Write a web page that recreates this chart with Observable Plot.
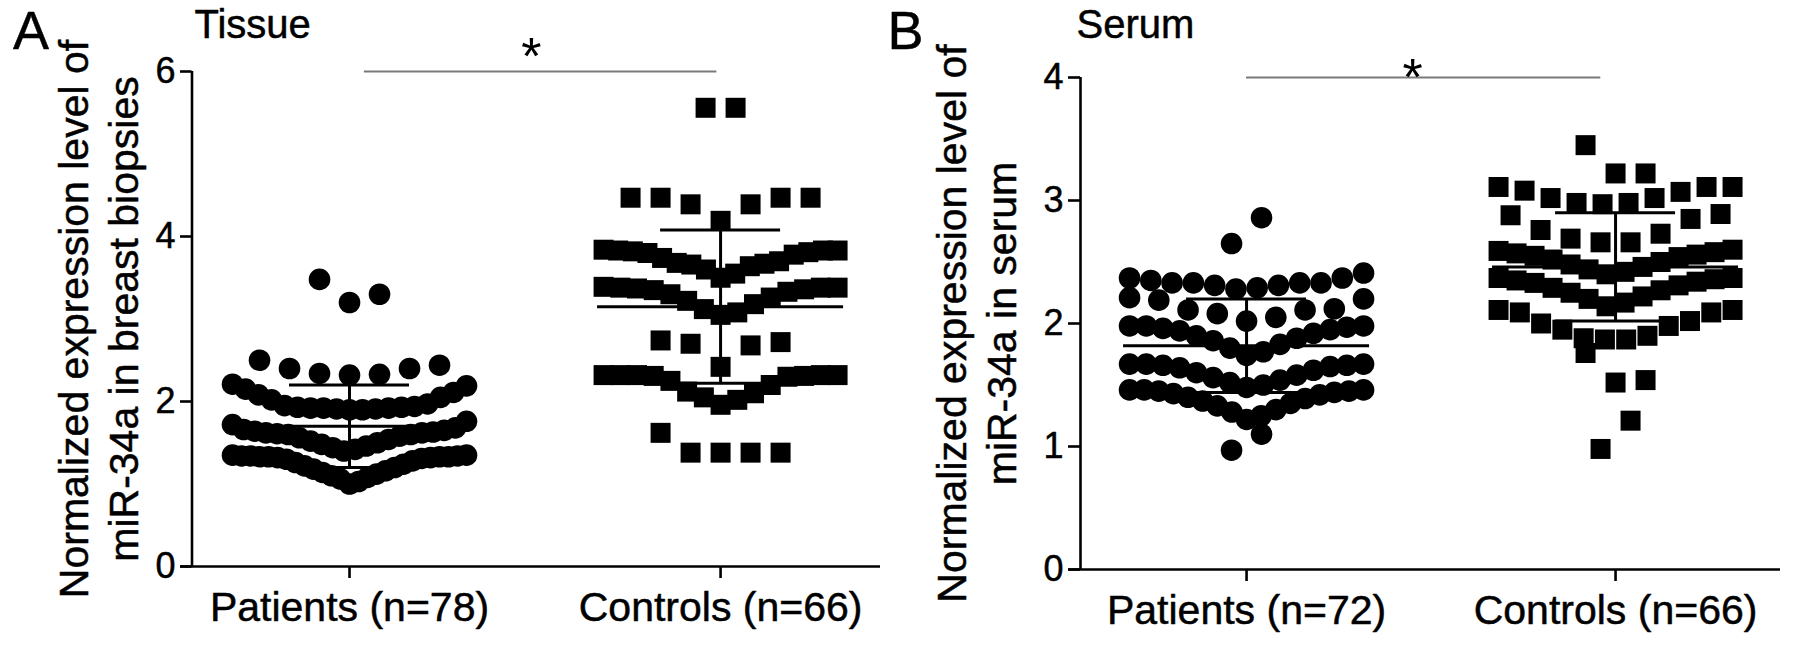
<!DOCTYPE html>
<html><head><meta charset="utf-8">
<script src="https://cdn.jsdelivr.net/npm/d3@7"></script>
<script src="https://cdn.jsdelivr.net/npm/@observablehq/plot@0.6"></script>
<style>
body{margin:0;background:#fff;}
#wrap{position:relative;width:1795px;height:647px;overflow:hidden;background:#fff;}
#wrap svg{position:absolute;top:0;}
</style></head><body><div id="wrap"></div>
<script>
// ---------- data ----------
const tissueLabels = ["Patients (n=78)", "Controls (n=66)"];
const serumLabels = ["Patients (n=72)", "Controls (n=66)"];

const patientsTissue = [
  1.00, 1.03, 1.06, 1.08, 1.10, 1.12, 1.14, 1.16, 1.18, 1.20, 1.22, 1.24, 1.26, 1.28, 1.30,
  1.31, 1.32, 1.32, 1.33, 1.33, 1.33, 1.33, 1.34, 1.34, 1.34, 1.35, 1.35,
  1.40, 1.42, 1.44, 1.46, 1.48, 1.50, 1.52, 1.54, 1.56, 1.58, 1.60, 1.60, 1.61, 1.62, 1.62,
  1.63, 1.64, 1.65, 1.66, 1.68, 1.72, 1.76,
  1.90, 1.90, 1.91, 1.91, 1.92, 1.92, 1.92, 1.93, 1.93, 1.94, 1.95, 1.97, 2.02, 2.05, 2.08,
  2.11, 2.15, 2.19, 2.21,
  2.32, 2.33, 2.34, 2.40, 2.40, 2.44, 2.50,
  3.20, 3.30, 3.48
];
const controlsTissue = [
  1.38, 1.38, 1.38, 1.38, 1.62,
  1.96, 2.02, 2.05, 2.10, 2.12, 2.20, 2.25, 2.30, 2.31, 2.31, 2.32, 2.32, 2.32, 2.32, 2.32,
  2.42, 2.68, 2.70, 2.72, 2.74,
  3.05, 3.08, 3.12, 3.18, 3.22, 3.26, 3.30, 3.33, 3.35, 3.36, 3.37, 3.38, 3.38, 3.38, 3.39,
  3.50, 3.55, 3.60, 3.64, 3.66, 3.67, 3.68, 3.70, 3.74, 3.78, 3.80, 3.81, 3.82, 3.83, 3.83, 3.83, 3.84,
  4.19, 4.39, 4.39, 4.47, 4.47, 4.47, 4.47,
  5.56, 5.56
];
const patientsSerum = [
  0.97, 1.10,
  1.22, 1.25, 1.28, 1.30, 1.33, 1.35, 1.37, 1.39, 1.40, 1.42, 1.43, 1.44, 1.45, 1.45, 1.46, 1.46, 1.46,
  1.48, 1.50, 1.52, 1.54, 1.56, 1.58, 1.60, 1.62, 1.64, 1.65, 1.66, 1.66, 1.67, 1.67, 1.67,
  1.74, 1.77, 1.80, 1.83, 1.86, 1.88, 1.90, 1.92, 1.94, 1.95, 1.96, 1.97, 1.98, 1.98, 1.98,
  2.02, 2.05, 2.08, 2.11, 2.11, 2.12, 2.19, 2.20, 2.21,
  2.28, 2.29, 2.31, 2.31, 2.33, 2.33, 2.33, 2.33, 2.35, 2.37, 2.37, 2.41,
  2.65, 2.86
];
const controlsSerum = [
  0.98, 1.21,
  1.52, 1.54, 1.76,
  1.87, 1.87, 1.88, 1.90, 1.95, 1.98, 2.00, 2.02, 2.09, 2.09, 2.11, 2.11,
  2.14, 2.17, 2.20, 2.22, 2.25, 2.27, 2.29, 2.31, 2.33, 2.34, 2.35, 2.36, 2.37, 2.37,
  2.40, 2.42, 2.44, 2.46, 2.48, 2.50, 2.52, 2.54, 2.55, 2.56, 2.57, 2.58, 2.59, 2.60,
  2.66, 2.66, 2.69, 2.73, 2.76, 2.85, 2.88, 2.89,
  2.97, 2.98, 2.98, 3.02, 3.02, 3.07, 3.08, 3.11, 3.11, 3.11,
  3.22, 3.22, 3.45
];
const tissueMean = [1.70, 3.15];
const tissueSD = [0.50, 0.93];
const serumMean = [1.82, 2.46];
const serumSD = [0.38, 0.44];
const tissueTicks = [0, 2, 4, 6];
const serumTicks = [0, 1, 2, 3, 4];
// significance bracket: [from group position, to group position], level, star position
const sigFrom = [0.04, 0.0];
const sigTo = [0.99, 0.96];
const sigLevel = [6, 4];
const sigStarAt = [0.49, 0.45];

// ---------- layout helpers ----------
const HEIGHT = 647;
const FONT = "'Liberation Sans', Arial, Helvetica, sans-serif";
const BIN_PX = 30.3, MAX_STEP = 30, MAX_HALF = 117;
const MEAN_HALF = 123, CAP_HALF = 60;
const TXT = {fill: "black", stroke: "black", strokeWidth: 0.5};

// Prism-like column scatter: bin sorted values into rows, spread each row symmetrically
function scatterLayout(values, gi, binUnits, kx) {
  const sorted = values.slice().sort((a, b) => a - b);
  const rows = [];
  let cur = null;
  for (const v of sorted) {
    if (!cur || v - cur.start >= binUnits - 1e-9) { cur = {start: v, vals: []}; rows.push(cur); }
    cur.vals.push(v);
  }
  const out = [];
  for (const row of rows) {
    const n = row.vals.length;
    const s = n > 1 ? Math.min(MAX_STEP, 2 * MAX_HALF / (n - 1)) : 0;
    row.vals.forEach((v, i) => {
      let slot;
      if (n % 2) slot = i === 0 ? 0 : (i % 2 ? 1 : -1) * Math.ceil(i / 2);
      else slot = (i % 2 === 0 ? -1 : 1) * (Math.floor(i / 2) + 0.5);
      out.push({x: gi + slot * s / kx, v, g: gi});
    });
  }
  return out;
}

function panel(c) {
  const fw = c.width - c.mL - c.mR;
  const kx = fw / (c.xDomain[1] - c.xDomain[0]);
  const ky = (HEIGHT - c.mT - c.mB) / c.yMax;
  const pts = [];
  c.groups.forEach((vals, gi) => pts.push(...scatterLayout(vals, gi, BIN_PX / ky, kx)));
  const stats = c.means.map((m, i) => ({i, m, lo: m - c.sds[i], hi: m + c.sds[i]}));
  const sig = [{x1: sigFrom[c.p], x2: sigTo[c.p], y: sigLevel[c.p], sx: sigStarAt[c.p]}];
  const lw = 2.6;
  return Plot.plot({
    width: c.width, height: HEIGHT,
    marginLeft: c.mL, marginRight: c.mR, marginTop: c.mT, marginBottom: c.mB,
    style: {fontFamily: FONT, background: "transparent", color: "black", overflow: "visible"},
    x: {domain: c.xDomain},
    y: {domain: [0, c.yMax]},
    marks: [
      Plot.dot(pts.filter(d => d.g === 0), {x: "x", y: "v", r: 10.8, fill: "black", stroke: "none"}),
      Plot.dot(pts.filter(d => d.g === 1), {x: "x", y: "v", r: 11.28, symbol: "square", fill: "black", stroke: "none"}),
      Plot.ruleY(stats, {y: "m", x1: d => d.i - MEAN_HALF / kx, x2: d => d.i + MEAN_HALF / kx, strokeWidth: 3}),
      Plot.ruleY(stats, {y: "hi", x1: d => d.i - CAP_HALF / kx, x2: d => d.i + CAP_HALF / kx, strokeWidth: 3}),
      Plot.ruleY(stats, {y: "lo", x1: d => d.i - CAP_HALF / kx, x2: d => d.i + CAP_HALF / kx, strokeWidth: 3}),
      Plot.ruleX(stats, {x: "i", y1: "lo", y2: "hi", strokeWidth: 3}),
      Plot.ruleX([c.xDomain[0]], {y1: 0, y2: c.yMax, strokeWidth: lw}),
      Plot.ruleY([0], {insetLeft: -c.tick, strokeWidth: lw}),
      Plot.axisY({ticks: c.ticks, tickFormat: d3.format("d"), tickSize: c.tick, tickPadding: 5, fontSize: 36, label: null, strokeWidth: lw, textStroke: "black", textStrokeWidth: 0.5}),
      Plot.axisX({ticks: [0, 1], tickFormat: d => c.labels[d], tickSize: 12, tickPadding: 13.2, fontSize: 41, label: null, strokeWidth: lw, textStroke: "black", textStrokeWidth: 0.5}),
      Plot.ruleY(sig, {y: "y", x1: "x1", x2: "x2", stroke: "#7a7a7a", strokeWidth: 2}),
      Plot.text(sig, {x: "sx", y: "y", text: () => "*", fontSize: 52, lineAnchor: "bottom", dy: c.starDy, fill: "black"}),
      Plot.text([c.yLabel], {text: d => d, frameAnchor: "left", rotate: -90, dx: c.labelDx, fontSize: 41, lineHeight: 1.22, lineAnchor: "middle", textAnchor: "middle", ...TXT}),
      Plot.text([c.title], {text: d => d, frameAnchor: "top-left", dx: c.titleDx, dy: c.titleDy, fontSize: 40, lineAnchor: "bottom", textAnchor: "start", ...TXT}),
      Plot.text([c.letter], {text: d => d, frameAnchor: "top-left", dx: c.letterDx, dy: c.letterDy, fontSize: 54, lineAnchor: "bottom", textAnchor: "start", ...TXT})
    ]
  });
}

const wrap = document.getElementById("wrap");
const A = panel({
  p: 0, width: 900, mL: 191.5, mR: 20, mT: 71, mB: 81, tick: 11.5,
  xDomain: [-0.4245, 1.431], yMax: 6, ticks: tissueTicks, labels: tissueLabels,
  groups: [patientsTissue, controlsTissue], means: tissueMean, sds: tissueSD,
  yLabel: "Normalized expression level of\nmiR-34a in breast biopsies",
  labelDx: -95.5, title: "Tissue", titleDx: 2.5, titleDy: -34, letter: "A", letterDx: -179, letterDy: -23, starDy: 2
});
A.style.left = "0px";
wrap.appendChild(A);
const B = panel({
  p: 1, width: 915, mL: 200, mR: 15, mT: 77, mB: 78, tick: 12,
  xDomain: [-0.45, 1.447], yMax: 4, ticks: serumTicks, labels: serumLabels,
  groups: [patientsSerum, controlsSerum], means: serumMean, sds: serumSD,
  yLabel: "Normalized expression level of\nmiR-34a in serum",
  labelDx: -106, title: "Serum", titleDx: -4, titleDy: -40, letter: "B", letterDx: -193, letterDy: -29, starDy: 17.5
});
B.style.left = "880px";
wrap.appendChild(B);
</script>
</body></html>
